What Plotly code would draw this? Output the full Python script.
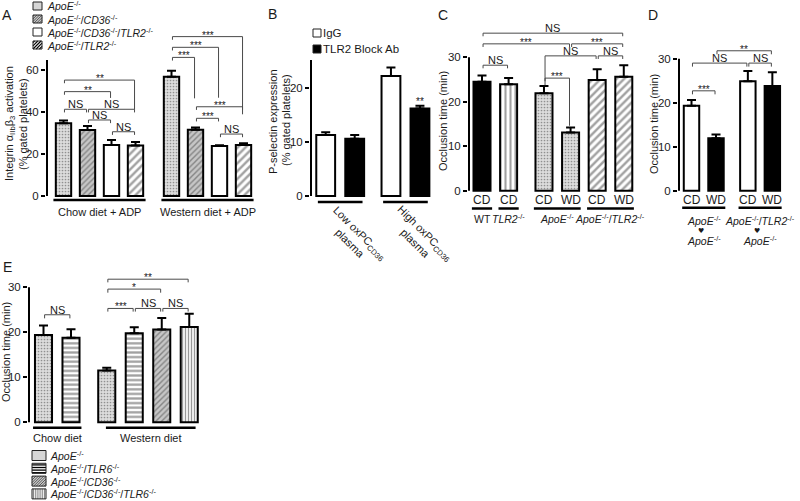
import plotly.graph_objects as go

W, H = 800, 501
FONT = "Liberation Sans, Arial, Helvetica, sans-serif"
SYMF = "DejaVu Sans"
INK = "#1a1a1a"

KO = "<sup>-/-</sup>"


def gene(name):
    return f"<i>{name}</i>{KO}"


APOE = gene("ApoE")
CD36 = gene("CD36")
TLR2 = gene("TLR2")
TLR6 = gene("TLR6")

# ------------------------------------------------------------------ data
# Panel A: integrin activation (% gated platelets)
A_groups = ["Chow diet + ADP", "Western diet + ADP"]
A_series = [APOE, APOE + "/" + CD36, APOE + "/" + CD36 + "/" + TLR2, APOE + "/" + TLR2]
A_apoe = [34.6, 56.8]
A_apoe_err = [1.3, 2.9]
A_cd36 = [31.4, 31.6]
A_cd36_err = [1.9, 1.0]
A_cd36_tlr2 = [24.3, 23.8]
A_cd36_tlr2_err = [2.4, 0.4]
A_tlr2 = [24.0, 24.3]
A_tlr2_err = [1.7, 0.8]
A_ticks = [0, 20, 40, 60]

# Panel B: P-selectin expression
B_groups = ["Low oxPC<sub>CD36</sub><br>plasma", "High oxPC<sub>CD36</sub><br>plasma"]
B_series = ["IgG", "TLR2 Block Ab"]
B_igg = [11.3, 22.2]
B_igg_err = [0.5, 1.6]
B_ab = [10.6, 16.2]
B_ab_err = [0.7, 0.5]
B_ticks = [0, 10, 20]

# Panel C: occlusion time (min)
C_genotypes = ["WT", TLR2, APOE, APOE + "/" + TLR2]
C_diets = ["CD", "CD", "CD", "WD", "CD", "WD"]
C_values = [24.5, 23.9, 21.9, 13.1, 24.9, 25.6]
C_err = [1.4, 1.4, 1.6, 1.1, 2.4, 2.6]
C_ticks = [0, 10, 20, 30]

# Panel D: occlusion time (min), bone marrow chimeras
D_donors = [APOE, APOE + "/" + TLR2]
D_recipients = [APOE, APOE]
D_diets = ["CD", "WD", "CD", "WD"]
D_values = [19.3, 11.9, 24.9, 23.8]
D_err = [1.3, 0.9, 2.3, 3.1]
D_ticks = [0, 10, 20, 30]

# Panel E: occlusion time (min)
E_groups = ["Chow diet", "Western diet"]
E_series = [APOE, APOE + "/" + TLR6, APOE + "/" + CD36, APOE + "/" + CD36 + "/" + TLR6]
E_values = [19.4, 18.8, 11.5, 19.8, 20.6, 21.2]
E_err = [2.1, 1.9, 0.6, 1.3, 2.6, 2.9]
E_ticks = [0, 10, 20, 30]

# ------------------------------------------------------------------ styles
STY = {
    "apoe": dict(bg="#dcdcdc", shape=".", fg="#a2a2a2", size=3, sol=0.25),
    "cd36": dict(bg="#c6c6c6", shape="/", fg="#454545", size=4, sol=0.35),
    "white": dict(bg="white", shape="", fg="black", size=6, sol=0.3),
    "black": dict(bg="black", shape="", fg="black", size=6, sol=0.3),
    "hatch": dict(bg="white", shape="/", fg="black", size=5.5, sol=0.45),
    "vbw": dict(bg="white", shape="|", fg="black", size=5, sol=0.42),
    "hbw": dict(bg="white", shape="-", fg="black", size=4.6, sol=0.5),
    "vgray": dict(bg="#ececec", shape="|", fg="#6e6e6e", size=3, sol=0.35),
}

shapes = []
annotations = []
traces = []


def px2paper(px, py):
    return px / W, 1 - py / H


def axes_for(geo):
    l, r, c0, unit, t, b, y0, ppu = geo
    xa = dict(domain=[l / W, r / W], range=[(l - c0) / unit, (r - c0) / unit])
    ya = dict(domain=[1 - b / H, 1 - t / H], range=[(y0 - b) / ppu, (y0 - t) / ppu])
    return xa, ya


def add_bars(xid, yid, pos, vals, errs, styles, width):
    st = [STY[s] for s in styles]
    traces.append(go.Bar(
        x=pos, y=vals, width=width, xaxis=xid, yaxis=yid,
        marker=dict(
            color=[s["bg"] for s in st],
            line=dict(color="black", width=2),
            pattern=dict(shape=[s["shape"] for s in st], fgcolor=[s["fg"] for s in st],
                         bgcolor=[s["bg"] for s in st], size=[s["size"] for s in st],
                         solidity=[s["sol"] for s in st]),
        ),
        error_y=dict(type="data", array=errs, arrayminus=[0] * len(errs), symmetric=False,
                     color="black", thickness=2, width=4.5),
        showlegend=False, hoverinfo="skip",
    ))


def bracket(xid, yid, pos, i, j, y, label, ll, rl, inset=0.04):
    x1, x2 = pos[i] + inset, pos[j] - inset
    shapes.append(dict(type="path", xref=xid, yref=yid,
                       path=f"M{x1},{y - ll} L{x1},{y} L{x2},{y} L{x2},{y - rl}",
                       line=dict(color="#4a4a4a", width=1)))
    star = label.startswith("*")
    annotations.append(dict(x=(x1 + x2) / 2, y=y, xref=xid, yref=yid, text=label, showarrow=False,
                            yanchor="bottom", yshift=-5 if star else -2, borderpad=0,
                            font=dict(size=10 if star else 11, color=INK, family=FONT)))


def underline(xid, yid, x1, x2, y):
    shapes.append(dict(type="line", xref=xid, yref=yid, x0=x1, x1=x2, y0=y, y1=y,
                       line=dict(color="black", width=2.5)))


def label(xid, yid, x, text, dy, size=11, dx=0, angle=0, family=FONT):
    annotations.append(dict(x=x, y=0, xref=xid, yref=yid, text=text, showarrow=False,
                            xanchor="center", yanchor="middle", yshift=dy, xshift=dx, borderpad=0,
                            textangle=angle, font=dict(size=size, color=INK, family=family)))


def axis_line(xid, yid, xa, unit, top):
    x = xa["range"][0] + 1.0 / unit
    shapes.append(dict(type="line", xref=xid, yref=yid, x0=x, x1=x, y0=0, y1=top,
                       line=dict(color="black", width=2)))


def ptext(px, py, text, size=11, angle=0, xanchor="center", family=FONT):
    x, y = px2paper(px, py)
    annotations.append(dict(x=x, y=y, xref="paper", yref="paper", text=text, showarrow=False,
                            xanchor=xanchor, yanchor="middle", textangle=angle, borderpad=0,
                            font=dict(size=size, color=INK, family=family)))


def pline(xa_, ya_, xb_, yb_, color, width):
    a, b = px2paper(xa_, ya_)
    c, d = px2paper(xb_, yb_)
    shapes.append(dict(type="line", xref="paper", yref="paper", x0=a, y0=b, x1=c, y1=d,
                       line=dict(color=color, width=width)))


def swatch(x0, x1, yc, h, kind):
    """Legend key drawn as a small framed box filled like the bars."""
    y0, y1 = yc - h / 2, yc + h / 2
    fills = {"apoe": "#d6d6d6", "cd36": "#c8c8c8", "white": "white", "black": "black",
             "hatch": "white", "hbw": "white", "vgray": "#ededed"}
    a, b = px2paper(x0, y0)
    c, d = px2paper(x1, y1)
    shapes.append(dict(type="rect", xref="paper", yref="paper", x0=a, x1=c, y0=d, y1=b,
                       fillcolor=fills[kind], line=dict(width=0)))
    if kind in ("cd36", "hatch"):
        step = 2.6 if kind == "cd36" else 3.2
        col = "#3c3c3c" if kind == "cd36" else "black"
        wdt = 0.8 if kind == "cd36" else 1.1
        cval = x0 + y0 + step / 2
        while cval < x1 + y1:
            xs = max(x0, cval - y1)
            xe = min(x1, cval - y0)
            if xe > xs:
                pline(xs, cval - xs, xe, cval - xe, col, wdt)
            cval += step
    elif kind == "hbw":
        yy = y0 + 1.6
        while yy < y1:
            pline(x0, yy, x1, yy, "black", 1.3)
            yy += 2.6
    elif kind == "vgray":
        xx = x0 + 1.5
        while xx < x1:
            pline(xx, y0, xx, y1, "#6e6e6e", 0.8)
            xx += 2.2
    shapes.append(dict(type="rect", xref="paper", yref="paper", x0=a, x1=c, y0=d, y1=b,
                       fillcolor="rgba(0,0,0,0)", line=dict(color="#222", width=1)))


layout_axes = {}


def yaxis_common(ya, ticks, xid):
    d = dict(ya)
    d.update(dict(anchor=xid, tickvals=ticks, ticks="outside", ticklen=4, tickwidth=1.5,
                  tickcolor="black", showline=False, showgrid=False, zeroline=False,
                  tickfont=dict(size=11.5, color=INK, family=FONT), fixedrange=True))
    return d


def xaxis_common(xa, yid):
    d = dict(xa)
    d.update(dict(anchor=yid, visible=False, fixedrange=True))
    return d


# ------------------------------------------------------------------ panel A
geoA = (46, 258, 63.5, 24.0, 28, 206, 196, 2.1)
xa, ya = axes_for(geoA)
layout_axes["xaxis"] = xaxis_common(xa, "y")
layout_axes["yaxis"] = yaxis_common(ya, A_ticks, "x")
axis_line("x", "y", xa, 24.0, 64.8)
nA = len(A_series)
A_vals = [A_apoe, A_cd36, A_cd36_tlr2, A_tlr2]
A_errs = [A_apoe_err, A_cd36_err, A_cd36_tlr2_err, A_tlr2_err]
A_sty = ["apoe", "cd36", "white", "hatch"]
posA = []
for gi in range(len(A_groups)):
    for si in range(nA):
        posA.append(gi * (nA + 0.5) + si)
add_bars("x", "y", posA,
         [A_vals[si][gi] for gi in range(2) for si in range(nA)],
         [A_errs[si][gi] for gi in range(2) for si in range(nA)],
         [A_sty[si] for gi in range(2) for si in range(nA)], 0.64)
for gi, name in enumerate(A_groups):
    p0, p1 = posA[gi * nA], posA[gi * nA + nA - 1]
    underline("x", "y", p0 - 0.42, p1 + 0.42, -1.9)
    label("x", "y", (p0 + p1) / 2, name, -16)
for spec in [(0, 3, 55.2, "**", 1.5, 14), (0, 2, 49.7, "**", 1.5, 3), (0, 1, 41.3, "NS", 1.5, 1.5),
             (1, 3, 41.3, "NS", 1.5, 1.5), (1, 2, 36.2, "NS", 1.5, 1.5), (2, 3, 30.6, "NS", 1.5, 1.5),
             (4, 7, 75.9, "***", 1.5, 37), (4, 6, 70.8, "***", 1.5, 24), (4, 5, 66.0, "***", 1.5, 19.5),
             (5, 7, 42.5, "***", 1.5, 1.5), (5, 6, 37.0, "***", 1.5, 1.5), (6, 7, 29.5, "NS", 1.5, 1.5)]:
    bracket("x", "y", posA, *spec)
ptext(10, 124, "Integrin α<sub>IIb</sub>β<sub>3</sub> activation", angle=-90)
ptext(23, 124, "(% gated platelets)", angle=-90)
# legend A
for k, (name, sty) in enumerate(zip(A_series, A_sty)):
    yc = 6 + 13 * k
    swatch(33, 42, yc, 8, sty)
    ptext(46, yc, name, size=10.5, xanchor="left")
ptext(7, 15, "A", size=14)

# ------------------------------------------------------------------ panel B
geoB = (310, 440, 325.7, 29.0, 55, 206, 196, 5.4)
xa, ya = axes_for(geoB)
layout_axes["xaxis2"] = xaxis_common(xa, "y2")
layout_axes["yaxis2"] = yaxis_common(ya, B_ticks, "x2")
axis_line("x2", "y2", xa, 29.0, 25.2)
posB = [gi * 2.25 + si for gi in range(2) for si in range(2)]
B_vals = [B_igg, B_ab]
B_errs = [B_igg_err, B_ab_err]
B_sty = ["white", "black"]
add_bars("x2", "y2", posB,
         [B_vals[si][gi] for gi in range(2) for si in range(2)],
         [B_errs[si][gi] for gi in range(2) for si in range(2)],
         [B_sty[si] for gi in range(2) for si in range(2)], 0.65)
for gi, name in enumerate(B_groups):
    p0, p1 = posB[gi * 2], posB[gi * 2 + 1]
    underline("x2", "y2", p0 - 0.27, p1 + 0.27, -1.1)
    annotations.append(dict(x=(p0 + p1) / 2, y=0, xref="x2", yref="y2", text=name, showarrow=False,
                            xanchor="center", yanchor="middle", xshift=15, yshift=-42, textangle=45,
                            align="center", font=dict(size=11, color=INK, family=FONT)))
annotations.append(dict(x=posB[3], y=B_ab[1] + B_ab_err[1], xref="x2", yref="y2", text="**",
                        showarrow=False, yanchor="bottom", yshift=-3,
                        font=dict(size=10, color=INK, family=FONT)))
ptext(273, 122, "P-selectin expression", angle=-90)
ptext(286, 120, "(% gated platelets)", angle=-90)
for k, (name, sty) in enumerate(zip(B_series, B_sty)):
    yc = 33 + 16 * k
    swatch(313, 321, yc, 8, sty)
    ptext(322, yc, name, size=11.5, xanchor="left")
ptext(272, 14, "B", size=14)

# ------------------------------------------------------------------ panel C
geoC = (468, 645, 482.0, 26.6, 25, 213, 190.7, 4.45)
xa, ya = axes_for(geoC)
layout_axes["xaxis3"] = xaxis_common(xa, "y3")
layout_axes["yaxis3"] = yaxis_common(ya, C_ticks, "x3")
axis_line("x3", "y3", xa, 26.6, 30)
posC = [0, 1, 2.33, 3.33, 4.33, 5.33]
add_bars("x3", "y3", posC, C_values, C_err, ["black", "vbw", "apoe", "apoe", "hatch", "hatch"], 0.64)
for p, d in zip(posC, C_diets):
    label("x3", "y3", p, d, -9, size=12)
C_members = [[0], [1], [2, 3], [4, 5]]
for name, mem in zip(C_genotypes, C_members):
    p0, p1 = posC[mem[0]], posC[mem[-1]]
    underline("x3", "y3", p0 - 0.38, p1 + 0.38, -4.0)
    label("x3", "y3", (p0 + p1) / 2, name, -28, size=10.5)
for spec in [(0, 5, 35.4, "NS", 0.7, 0.7), (0, 3, 33.0, "***", 0.7, 0.7), (3, 5, 33.0, "***", 0.7, 0.7),
             (2, 4, 30.3, "NS", 6.6, 0.7), (4, 5, 30.3, "NS", 0.7, 0.7), (2, 3, 25.3, "***", 0.7, 10.7),
             (0, 1, 28.2, "NS", 0.7, 0.7)]:
    bracket("x3", "y3", posC, *spec)
ptext(443, 121, "Occlusion time (min)", angle=-90)
ptext(443, 15, "C", size=14)

# ------------------------------------------------------------------ panel D
geoD = (678, 795, 691.5, 24.5, 40, 213, 190.7, 4.4)
xa, ya = axes_for(geoD)
layout_axes["xaxis4"] = xaxis_common(xa, "y4")
layout_axes["yaxis4"] = yaxis_common(ya, D_ticks, "x4")
axis_line("x4", "y4", xa, 24.5, 30)
posD = [0, 1, 2.3, 3.3]
add_bars("x4", "y4", posD, D_values, D_err, ["white", "black", "white", "black"], 0.63)
for p, d in zip(posD, D_diets):
    label("x4", "y4", p, d, -9.5, size=12)
for gi, (don, rec) in enumerate(zip(D_donors, D_recipients)):
    p0, p1 = posD[gi * 2], posD[gi * 2 + 1]
    underline("x4", "y4", p0 - 0.38, p1 + 0.38, -3.9)
    c = (p0 + p1) / 2
    label("x4", "y4", c, don, -29.5, size=10.5)
    label("x4", "y4", c, "♥", -40, size=7, dx=-3, family=SYMF)
    label("x4", "y4", c, rec, -50, size=10.5)
for spec in [(1, 3, 31.8, "**", 0.8, 0.8), (0, 2, 29.0, "NS", 0.8, 0.8), (2, 3, 29.0, "NS", 0.8, 0.8),
             (0, 1, 22.7, "***", 0.8, 0.8)]:
    bracket("x4", "y4", posD, *spec)
ptext(654, 124, "Occlusion time (min)", angle=-90)
ptext(653, 15, "D", size=14)

# ------------------------------------------------------------------ panel E
geoE = (28, 205, 43.5, 27.5, 272, 432, 422.3, 4.5)
xa, ya = axes_for(geoE)
layout_axes["xaxis5"] = xaxis_common(xa, "y5")
layout_axes["yaxis5"] = yaxis_common(ya, E_ticks, "x5")
axis_line("x5", "y5", xa, 27.5, 30)
posE = [0, 1, 2.3, 3.3, 4.3, 5.3]
E_sty = ["apoe", "hbw", "apoe", "hbw", "cd36", "vgray"]
add_bars("x5", "y5", posE, E_values, E_err, E_sty, 0.62)
underline("x5", "y5", posE[0] - 0.38, posE[1] + 0.38, -1.2)
label("x5", "y5", (posE[0] + posE[1]) / 2, E_groups[0], -15.4)
underline("x5", "y5", posE[2] - 0.03, posE[5] + 0.23, -1.2)
label("x5", "y5", (posE[2] - 0.03 + posE[5] + 0.23) / 2, E_groups[1], -15.4)
for spec in [(0, 1, 23.9, "NS", 0.8, 0.8), (2, 5, 31.8, "**", 0.7, 0.7), (2, 4, 29.6, "*", 0.8, 0.8),
             (2, 3, 25.3, "***", 0.7, 0.7), (3, 4, 25.3, "NS", 0.7, 0.7), (4, 5, 25.3, "NS", 0.7, 0.7)]:
    bracket("x5", "y5", posE, *spec)
ptext(6, 352, "Occlusion time (min)", angle=-90)
ptext(7, 267, "E", size=14)
E_leg_sty = ["apoe", "hbw", "cd36", "vgray"]
for k, (name, sty) in enumerate(zip(E_series, E_leg_sty)):
    yc = 455.5 + 12.8 * k
    swatch(32, 46, yc, 10, sty)
    ptext(49, yc, name, size=10.5, xanchor="left")

fig = go.Figure(data=traces)
fig.update_layout(
    width=W, height=H, margin=dict(l=0, r=0, t=0, b=0),
    paper_bgcolor="white", plot_bgcolor="rgba(0,0,0,0)",
    barmode="overlay", showlegend=False,
    font=dict(family=FONT, color=INK),
    shapes=shapes, annotations=annotations,
    **layout_axes,
)
fig.write_html("out.html", config={"displayModeBar": False},
               post_script="document.body.style.margin='0px';document.body.style.overflow='hidden';")
